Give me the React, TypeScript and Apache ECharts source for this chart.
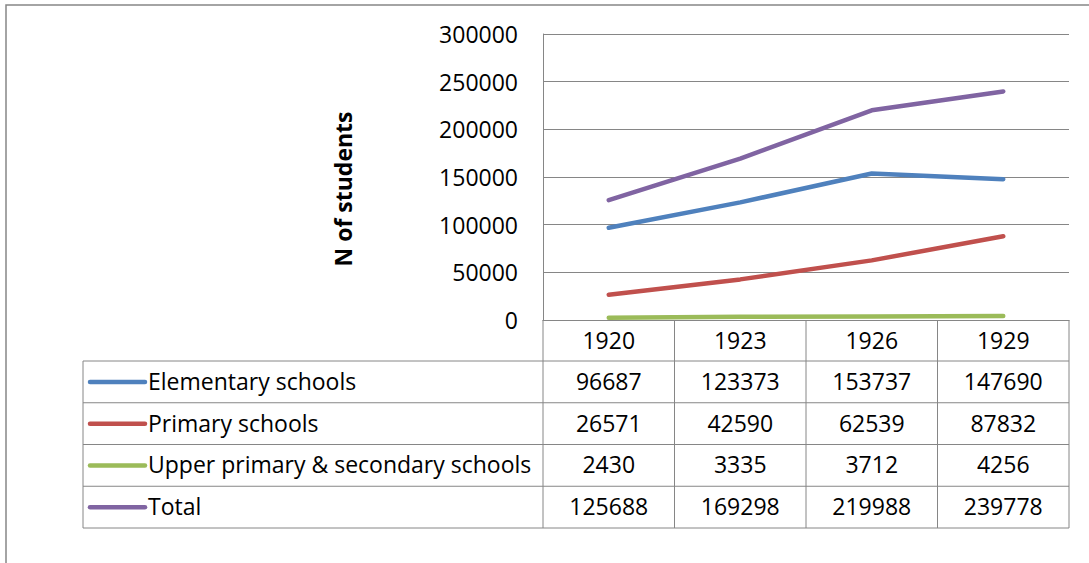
import React, { useEffect, useRef } from "react";
import * as echarts from "echarts";

// School enrolment by type, 1920–1929
const years = ["1920", "1923", "1926", "1929"];
const seriesNames = [
  "Elementary schools",
  "Primary schools",
  "Upper primary & secondary schools",
  "Total",
];
const elementary = [96687, 123373, 153737, 147690];
const primary = [26571, 42590, 62539, 87832];
const upperSecondary = [2430, 3335, 3712, 4256];
const total = [125688, 169298, 219988, 239778];
const seriesValues = [elementary, primary, upperSecondary, total];
const seriesColors = ["#4F81BD", "#C0504D", "#9BBB59", "#8064A2"];

const yMin = 0;
const yMax = 300000;
const yStep = 50000;
const yTitle = "N of students";

const FONT = "'Open Sans', Lato, sans-serif";
const FONT_SIZE = 23;
const TITLE_SIZE = 23;
const GRAY = "#868686";
const LINE_W = 4.5;

export default function App() {
  const ref = useRef<HTMLDivElement>(null);

  useEffect(() => {
    if (!ref.current) return;
    const chart = echarts.init(ref.current, null, { renderer: "svg" });

    chart.setOption({
      animation: false,
      backgroundColor: "#ffffff",
      grid: { left: 543, right: 20, top: 34, bottom: 243, containLabel: false },
      xAxis: {
        type: "category",
        data: years,
        boundaryGap: true,
        axisLine: { show: true, lineStyle: { color: GRAY, width: 1 } },
        axisTick: { show: false },
        axisLabel: {
          color: "#000",
          fontFamily: FONT,
          fontSize: FONT_SIZE,
          margin: 20,
          verticalAlign: "middle",
        },
      },
      yAxis: {
        type: "value",
        min: yMin,
        max: yMax,
        interval: yStep,
        axisLine: { show: true, lineStyle: { color: GRAY, width: 1 } },
        axisTick: { show: false },
        splitLine: { show: true, lineStyle: { color: GRAY, width: 1 } },
        axisLabel: {
          color: "#000",
          fontFamily: FONT,
          fontSize: FONT_SIZE,
          margin: 25,
          formatter: (v: number) => String(v),
        },
      },
      series: seriesNames.map((name, i) => ({
        name,
        type: "line",
        data: seriesValues[i],
        showSymbol: false,
        symbol: "none",
        lineStyle: { color: seriesColors[i], width: LINE_W, cap: "round", join: "round" },
        itemStyle: { color: seriesColors[i] },
      })),
    });

    // Data table under the plot, aligned with the category bands
    const centers = years.map((_, i) => chart.convertToPixel({ xAxisIndex: 0 }, i) as number);
    const band = centers.length > 1 ? centers[1] - centers[0] : 130;
    const colEdges = [centers[0] - band / 2, ...centers.map((c) => c + band / 2)];
    const y0 = chart.convertToPixel({ yAxisIndex: 0 }, 0) as number;
    const tableLeft = 83;
    const headerH = 41;
    const rowH = 41.75;
    const headerBottom = y0 + headerH;
    const tableBottom = headerBottom + rowH * seriesNames.length;
    const tableRight = colEdges[colEdges.length - 1];

    const lineStyle = { stroke: GRAY, lineWidth: 1 };
    const elements: any[] = [];

    // outer chart frame (runs past the right and bottom edges)
    elements.push({
      type: "polyline",
      shape: { points: [[6, 600], [6, 5], [1200, 5]] },
      style: { stroke: GRAY, lineWidth: 1.5, fill: null },
    });

    // vertical table lines
    colEdges.forEach((x) => {
      elements.push({ type: "line", shape: { x1: x, y1: y0, x2: x, y2: tableBottom }, style: lineStyle });
    });
    elements.push({
      type: "line",
      shape: { x1: tableLeft, y1: headerBottom, x2: tableLeft, y2: tableBottom },
      style: lineStyle,
    });
    // horizontal table lines
    for (let r = 0; r <= seriesNames.length; r++) {
      const y = headerBottom + r * rowH;
      elements.push({ type: "line", shape: { x1: tableLeft, y1: y, x2: tableRight, y2: y }, style: lineStyle });
    }

    seriesNames.forEach((name, r) => {
      const cy = headerBottom + r * rowH + rowH / 2 - 1;
      elements.push({
        type: "line",
        shape: { x1: 90, y1: cy + 1, x2: 145, y2: cy + 1 },
        style: { stroke: seriesColors[r], lineWidth: LINE_W, lineCap: "round" },
      });
      elements.push({
        type: "text",
        x: 148,
        y: cy,
        style: {
          text: name,
          fill: "#000",
          font: `${FONT_SIZE}px ${FONT}`,
          align: "left",
          verticalAlign: "middle",
        },
      });
      seriesValues[r].forEach((v, c) => {
        elements.push({
          type: "text",
          x: centers[c],
          y: cy,
          style: {
            text: String(v),
            fill: "#000",
            font: `${FONT_SIZE}px ${FONT}`,
            align: "center",
            verticalAlign: "middle",
          },
        });
      });
    });

    // rotated value-axis title
    elements.push({
      type: "text",
      x: 343,
      y: 189,
      rotation: Math.PI / 2,
      style: {
        text: yTitle,
        fill: "#000",
        font: `bold ${TITLE_SIZE}px ${FONT}`,
        align: "center",
        verticalAlign: "middle",
      },
    });

    chart.setOption({ graphic: { elements } });

    return () => chart.dispose();
  }, []);

  return (
    <div
      ref={ref}
      style={{ position: "absolute", left: 0, top: 0, width: 1089, height: 563 }}
    />
  );
}
